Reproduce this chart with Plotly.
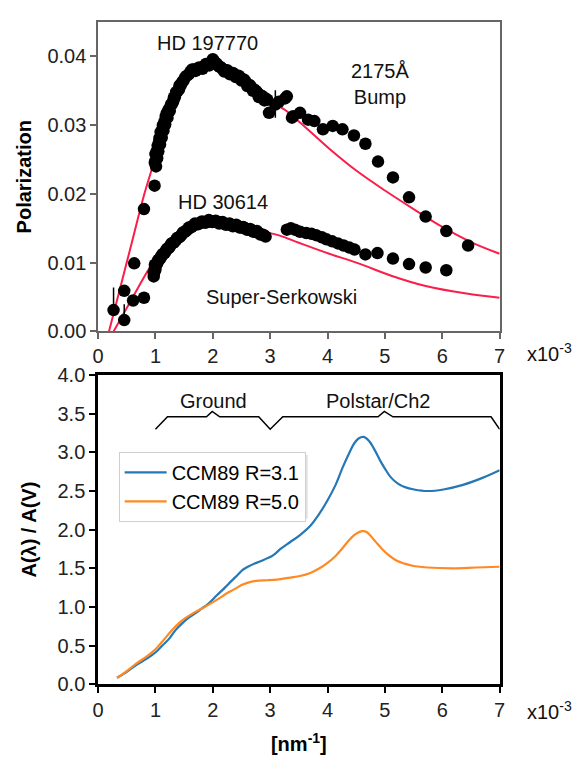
import plotly.graph_objects as go

# ---------------- top panel: polarization vs inverse wavelength ----------------
hd197770_x = [0.27, 0.456, 0.63, 0.80, 0.985,
              0.99, 1.00, 1.01, 1.03, 1.05, 1.08, 1.11, 1.14, 1.17, 1.21, 1.25, 1.29,
              1.34, 1.39, 1.44, 1.49, 1.55, 1.61, 1.67, 1.73, 1.79, 1.85, 1.91, 1.97,
              2.02, 2.07, 2.12, 2.17, 2.22, 2.27, 2.32, 2.37, 2.42, 2.47, 2.52, 2.57,
              2.62, 2.67, 2.72, 2.77, 2.82, 2.87, 2.92, 2.95,
              2.98, 3.09, 3.26, 3.29, 3.38, 3.40, 3.52, 3.66, 3.77, 3.92, 4.09, 4.26,
              4.46, 4.66, 4.88, 5.14, 5.42, 5.71, 6.07, 6.45,
              1.00, 1.02, 1.04, 1.06, 1.07, 1.09, 1.12, 1.13, 1.16, 1.18, 1.20, 1.23,
              1.27, 1.31, 1.32, 1.36, 1.41, 1.42, 1.47, 1.52, 1.58, 1.64, 1.70, 1.76,
              1.82, 1.88, 1.94, 2.00, 2.04, 2.10, 2.14, 2.20, 2.25, 2.30, 2.35, 2.40,
              2.45, 2.50, 2.55, 2.60, 2.65, 2.70, 2.75, 2.80, 2.85, 2.90, 3.15]
hd197770_y = [0.0031, 0.0059, 0.0099, 0.0178, 0.0212,
              0.0245, 0.0258, 0.0240, 0.0252, 0.0262, 0.0272, 0.0282, 0.0292, 0.0301,
              0.0311, 0.0321, 0.0331, 0.0341, 0.0350, 0.0358, 0.0365, 0.0372, 0.0378,
              0.0381, 0.0382, 0.0383, 0.0386, 0.0388, 0.0391, 0.0393, 0.0389, 0.0385,
              0.0382, 0.0380, 0.0378, 0.0376, 0.0374, 0.0372, 0.0370, 0.0367, 0.0363,
              0.0359, 0.0355, 0.0352, 0.0348, 0.0344, 0.0341, 0.0339, 0.0337,
              0.0318, 0.0330, 0.0339, 0.0342, 0.0311, 0.0313, 0.0318, 0.0308, 0.0306,
              0.0294, 0.0299, 0.0294, 0.0285, 0.0273, 0.0247, 0.0224, 0.0195, 0.0167,
              0.0146, 0.0125,
              0.0248, 0.0262, 0.0270, 0.0275, 0.0281, 0.0290, 0.0294, 0.0300, 0.0306,
              0.0313, 0.0318, 0.0323, 0.0330, 0.0335, 0.0340, 0.0348, 0.0352, 0.0358,
              0.0363, 0.0370, 0.0374, 0.0381, 0.0379, 0.0384, 0.0382, 0.0389, 0.0387,
              0.0396, 0.0391, 0.0386, 0.0384, 0.0378, 0.0380, 0.0374, 0.0376, 0.0370,
              0.0372, 0.0365, 0.0366, 0.0357, 0.0358, 0.0350, 0.0350, 0.0341, 0.0343,
              0.0336, 0.0334]
hd197770_err_plus = {0: 0.0033, 50: 0.0021}
hd197770_err_minus = {0: 0.0, 50: 0.0019}

hd30614_x = [0.456, 0.61, 0.80,
             0.97, 0.98, 0.99, 1.01, 1.04, 1.07, 1.10, 1.14, 1.18, 1.22, 1.26, 1.31,
             1.36, 1.41, 1.46, 1.51, 1.56, 1.61, 1.66, 1.72, 1.78, 1.84, 1.90, 1.96,
             2.02, 2.08, 2.14, 2.20, 2.26, 2.32, 2.38, 2.44, 2.50, 2.56, 2.62, 2.68,
             2.74, 2.80, 2.86, 2.92,
             3.29, 3.36, 3.43, 3.52, 3.63, 3.72, 3.80, 3.90, 3.98, 4.08, 4.18, 4.28,
             4.38, 4.47, 4.66, 4.87, 5.14, 5.42, 5.71, 6.07,
             0.97, 0.99, 1.00, 1.03, 1.05, 1.09, 1.12, 1.16, 1.20, 1.24, 1.28, 1.33,
             1.38, 1.43, 1.48, 1.53, 1.58, 1.63, 1.69, 1.75, 1.81, 1.87, 1.93, 1.99,
             2.05, 2.11, 2.17, 2.23, 2.29, 2.35, 2.41, 2.47, 2.53, 2.59, 2.65, 2.71,
             2.77, 2.83, 2.89]
hd30614_y = [0.00165, 0.0045, 0.0049,
             0.0080, 0.0086, 0.0091, 0.0096, 0.0101, 0.0105, 0.0109, 0.0113, 0.0117,
             0.0121, 0.0125, 0.0129, 0.0133, 0.0137, 0.0141, 0.0145, 0.0148, 0.0151,
             0.0154, 0.0156, 0.0158, 0.0159, 0.0160, 0.0160, 0.0160, 0.0159, 0.0158,
             0.0157, 0.0156, 0.0155, 0.0154, 0.0153, 0.0151, 0.0150, 0.0148, 0.0147,
             0.0145, 0.0143, 0.0141, 0.0138,
             0.0148, 0.0150, 0.0148, 0.0145, 0.0143, 0.0142, 0.0140, 0.0137, 0.0134,
             0.0131, 0.0128, 0.0125, 0.0122, 0.0119, 0.0112, 0.0114, 0.0106, 0.0098,
             0.0093, 0.0089,
             0.0085, 0.0097, 0.0090, 0.0099, 0.0104, 0.0107, 0.0112, 0.0114, 0.0120,
             0.0122, 0.0128, 0.0130, 0.0136, 0.0138, 0.0144, 0.0146, 0.0151, 0.0152,
             0.0157, 0.0156, 0.0160, 0.0158, 0.0162, 0.0159, 0.0161, 0.0157, 0.0159,
             0.0155, 0.0157, 0.0153, 0.0155, 0.0151, 0.0152, 0.0148, 0.0149, 0.0145,
             0.0146, 0.0141, 0.0140]
hd30614_err_plus = {0: 0.0023}
hd30614_err_minus = {0: 0.0}

# Serkowski-type fits
fit197770_x = [0.19, 0.40, 0.60, 0.80, 0.95, 1.10, 1.30, 1.50, 1.70, 1.90, 2.10, 2.30,
               2.50, 2.80, 3.00, 3.26, 3.52, 4.00, 4.50, 5.00, 5.50, 6.00, 6.50, 7.00]
fit197770_y = [0.0, 0.0068, 0.0133, 0.0198, 0.0240, 0.0285, 0.0330, 0.0362, 0.0380,
               0.0388, 0.0388, 0.0380, 0.0367, 0.0347, 0.0336, 0.0322, 0.0304, 0.0268,
               0.0234, 0.0205, 0.0178, 0.0152, 0.0130, 0.0113]
fit30614_x = [0.27, 0.50, 0.70, 0.93, 1.20, 1.50, 1.80, 2.00, 2.30, 2.60, 2.95, 3.18,
              3.50, 4.03, 4.54, 5.11, 5.71, 6.42, 7.00]
fit30614_y = [0.0, 0.0034, 0.0064, 0.0096, 0.0122, 0.0143, 0.0155, 0.0158, 0.0156,
              0.0151, 0.0144, 0.0139, 0.0129, 0.0113, 0.0099, 0.0081, 0.0066, 0.0055,
              0.0049]

# ---------------- bottom panel: CCM89 extinction curves ----------------
ccm31_x = [0.33, 0.50, 0.67, 0.85, 1.01, 1.12, 1.24, 1.35, 1.47, 1.58, 1.70, 1.81,
           1.92, 2.07, 2.21, 2.33, 2.44, 2.52, 2.61, 2.72, 2.83, 2.92, 3.00, 3.09,
           3.18, 3.35, 3.52, 3.70, 3.86, 4.00, 4.14, 4.26, 4.37, 4.46, 4.54, 4.63,
           4.72, 4.83, 4.92, 5.00, 5.10, 5.22, 5.35, 5.51, 5.74, 6.02, 6.36, 6.70, 7.00]
ccm31_y = [0.083, 0.16, 0.25, 0.33, 0.416, 0.50, 0.59, 0.70, 0.79, 0.86, 0.92, 0.98,
           1.04, 1.15, 1.25, 1.34, 1.42, 1.48, 1.52, 1.56, 1.59, 1.62, 1.645, 1.69,
           1.75, 1.84, 1.93, 2.05, 2.21, 2.38, 2.58, 2.80, 2.98, 3.11, 3.18, 3.20,
           3.15, 3.02, 2.89, 2.79, 2.68, 2.60, 2.55, 2.52, 2.50, 2.52, 2.58, 2.67, 2.77]
ccm50_x = [0.33, 0.50, 0.67, 0.85, 1.01, 1.15, 1.30, 1.41, 1.52, 1.66, 1.81, 1.95,
           2.09, 2.23, 2.38, 2.52, 2.66, 2.80, 2.95, 3.12, 3.35, 3.52, 3.70, 3.86,
           4.00, 4.14, 4.26, 4.37, 4.48, 4.60, 4.68, 4.83, 4.95, 5.05, 5.20, 5.34,
           5.50, 5.74, 6.19, 6.59, 7.00]
ccm50_y = [0.083, 0.17, 0.27, 0.36, 0.458, 0.58, 0.708, 0.79, 0.854, 0.92, 0.979,
           1.04, 1.10, 1.17, 1.23, 1.29, 1.325, 1.34, 1.345, 1.354, 1.38, 1.40, 1.44,
           1.50, 1.57, 1.66, 1.76, 1.86, 1.94, 1.98, 1.97, 1.85, 1.75, 1.68, 1.60,
           1.56, 1.53, 1.51, 1.50, 1.51, 1.52]

# bracket marking the Ground and Polstar/Ch2 coverage
brace_x = [1.0, 1.21, 1.89, 1.99, 2.12, 2.80, 3.0, 3.22, 4.88, 4.99, 5.14, 6.85, 7.0]
brace_y = [3.30, 3.46, 3.46, 3.53, 3.46, 3.46, 3.30, 3.46, 3.46, 3.53, 3.46, 3.46, 3.30]

FONT = "Liberation Sans, Arial, sans-serif"
RED = "#fa1e4a"
W, H = 585, 758


def px_x(p):
    return p / W


def px_y(p):
    return 1 - p / H


def err(n, d):
    return [d.get(i, 0.0) for i in range(n)]


fig = go.Figure()

fig.add_trace(go.Scatter(x=fit197770_x, y=fit197770_y, mode="lines", line=dict(color=RED, width=2, shape="spline"),
                         showlegend=False, xaxis="x", yaxis="y"))
fig.add_trace(go.Scatter(x=fit30614_x, y=fit30614_y, mode="lines", line=dict(color=RED, width=2, shape="spline"),
                         showlegend=False, xaxis="x", yaxis="y"))
fig.add_trace(go.Scatter(
    x=hd197770_x, y=hd197770_y, mode="markers", marker=dict(color="black", size=12.5),
    error_y=dict(type="data", symmetric=False, array=err(len(hd197770_x), hd197770_err_plus),
                 arrayminus=err(len(hd197770_x), hd197770_err_minus), color="black", thickness=1.5, width=0),
    showlegend=False, xaxis="x", yaxis="y"))
fig.add_trace(go.Scatter(
    x=hd30614_x, y=hd30614_y, mode="markers", marker=dict(color="black", size=12.5),
    error_y=dict(type="data", symmetric=False, array=err(len(hd30614_x), hd30614_err_plus),
                 arrayminus=err(len(hd30614_x), hd30614_err_minus), color="black", thickness=1.5, width=0),
    showlegend=False, xaxis="x", yaxis="y"))

fig.add_trace(go.Scatter(x=ccm31_x, y=ccm31_y, mode="lines", name="CCM89 R=3.1",
                         line=dict(color="#2378b5", width=2.2, shape="spline"), xaxis="x2", yaxis="y2"))
fig.add_trace(go.Scatter(x=ccm50_x, y=ccm50_y, mode="lines", name="CCM89 R=5.0",
                         line=dict(color="#ff8a24", width=2.2, shape="spline"), xaxis="x2", yaxis="y2"))

x_dom = [px_x(94), px_x(504)]
tickfont = dict(family=FONT, size=20, color="#222")

fig.update_layout(
    width=W, height=H,
    margin=dict(l=0, r=0, t=0, b=0),
    paper_bgcolor="white", plot_bgcolor="white",
    font=dict(family=FONT, size=20, color="black"),
    xaxis=dict(domain=x_dom, anchor="y", range=[0, 7], dtick=1, showgrid=False, zeroline=False,
               showline=True, linecolor="#666", linewidth=1.5, mirror=True,
               ticks="outside", ticklen=6, tickcolor="#666", tickwidth=1.5, tickfont=tickfont),
    yaxis=dict(domain=[px_y(330), px_y(11.4)], anchor="x", range=[0, 0.045], dtick=0.01,
               tickformat=".2f", showgrid=False, zeroline=False,
               showline=True, linecolor="#666", linewidth=1.5, mirror=True,
               ticks="outside", ticklen=6, tickcolor="#666", tickwidth=1.5, tickfont=tickfont,
               title=dict(text="<b>Polarization</b>", font=dict(family=FONT, size=20), standoff=10)),
    xaxis2=dict(domain=x_dom, anchor="y2", range=[0, 7], dtick=1, showgrid=False, zeroline=False,
                showline=True, linecolor="black", linewidth=2.5, mirror=True,
                ticks="outside", ticklen=6, tickcolor="black", tickwidth=2, tickfont=tickfont,
                title=dict(text="<b>[nm<sup>-1</sup>]</b>", font=dict(family=FONT, size=20), standoff=18)),
    yaxis2=dict(domain=[px_y(693.3), px_y(375)], anchor="x2", range=[0, 4], dtick=0.5,
                tickformat=".1f", showgrid=False, zeroline=False,
                showline=True, linecolor="black", linewidth=2.5, mirror=True,
                ticks="outside", ticklen=6, tickcolor="black", tickwidth=2, tickfont=tickfont,
                title=dict(text="<b>A(λ) / A(V)</b>", font=dict(family=FONT, size=20), standoff=16)),
    legend=dict(x=px_x(115), y=px_y(454), xanchor="left", yanchor="top",
                bgcolor="white", bordercolor="#cfcfcf", borderwidth=1, itemwidth=42,
                font=dict(family=FONT, size=20, color="black")),
)

labels = [
    ("HD 197770", 205.7, 33.3),
    ("2175Å<br>Bump", 381.7, 75),
    ("HD 30614", 221.7, 196.7),
    ("Super-Serkowski", 281.5, 295),
    ("Ground", 211.7, 401.7),
    ("Polstar/Ch2", 380.8, 401.7),
    ("x10<sup>-3</sup>", 555, 352),
    ("x10<sup>-3</sup>", 555, 720),
]
for text, x, y in labels:
    fig.add_annotation(text=text, x=px_x(x), y=px_y(y), xref="paper", yref="paper",
                       showarrow=False, xanchor="center", yanchor="middle",
                       font=dict(family=FONT, size=20, color="#111"))

brace_path = "M " + " L ".join(f"{bx},{by}" for bx, by in zip(brace_x, brace_y))
fig.add_shape(type="path", path=brace_path, xref="x2", yref="y2",
              line=dict(color="black", width=1.5))

# soft drop shadow behind the legend box
fig.add_shape(type="rect", xref="paper", yref="paper", layer="above",
              x0=px_x(118), x1=px_x(308), y0=px_y(523), y1=px_y(457),
              line=dict(width=0), fillcolor="rgba(0,0,0,0.12)")

fig.write_html("out.html")
